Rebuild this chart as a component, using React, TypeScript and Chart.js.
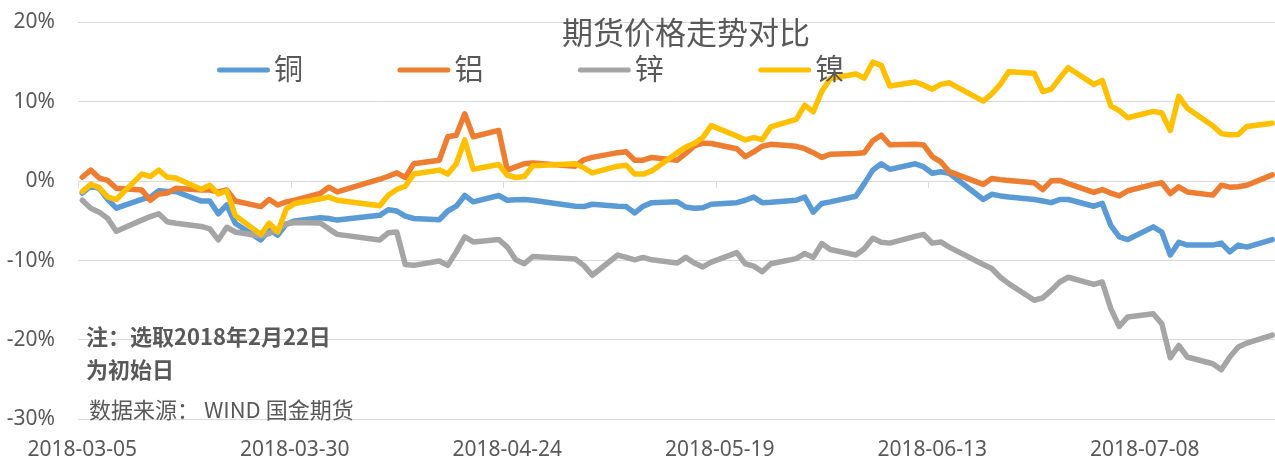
import React, { useEffect, useRef } from 'react';
import { Chart, registerables } from 'chart.js';

Chart.register(...registerables);

const chartTitle = '期货价格走势对比';
const seriesNames = ['铜', '铝', '锌', '镍'];
const seriesColors = ['#5B9BD5', '#ED7D31', '#A5A5A5', '#FFC000'];
const tickLabels = ['2018-03-05', '2018-03-30', '2018-04-24', '2018-05-19', '2018-06-13', '2018-07-08'];
const yTicks = [-30, -20, -10, 0, 10, 20];
const noteLines = ['注：选取2018年2月22日', '为初始日'];
const sourceText = '数据来源： WIND 国金期货';

const dates = [
  '2018-03-05', '2018-03-06', '2018-03-07', '2018-03-08', '2018-03-09',
  '2018-03-12', '2018-03-13', '2018-03-14', '2018-03-15', '2018-03-16',
  '2018-03-19', '2018-03-20', '2018-03-21', '2018-03-22', '2018-03-23',
  '2018-03-26', '2018-03-27', '2018-03-28', '2018-03-29', '2018-03-30',
  '2018-04-02', '2018-04-03', '2018-04-04',
  '2018-04-09', '2018-04-10', '2018-04-11', '2018-04-12', '2018-04-13',
  '2018-04-16', '2018-04-17', '2018-04-18', '2018-04-19', '2018-04-20',
  '2018-04-23', '2018-04-24', '2018-04-25', '2018-04-26', '2018-04-27',
  '2018-05-02', '2018-05-03', '2018-05-04',
  '2018-05-07', '2018-05-08', '2018-05-09', '2018-05-10', '2018-05-11',
  '2018-05-14', '2018-05-15', '2018-05-16', '2018-05-17', '2018-05-18',
  '2018-05-21', '2018-05-22', '2018-05-23', '2018-05-24', '2018-05-25',
  '2018-05-28', '2018-05-29', '2018-05-30', '2018-05-31', '2018-06-01',
  '2018-06-04', '2018-06-05', '2018-06-06', '2018-06-07', '2018-06-08',
  '2018-06-11', '2018-06-12', '2018-06-13', '2018-06-14', '2018-06-15',
  '2018-06-19', '2018-06-20', '2018-06-21', '2018-06-22',
  '2018-06-25', '2018-06-26', '2018-06-27', '2018-06-28', '2018-06-29',
  '2018-07-02', '2018-07-03', '2018-07-04', '2018-07-05', '2018-07-06',
  '2018-07-09', '2018-07-10', '2018-07-11', '2018-07-12', '2018-07-13',
  '2018-07-16', '2018-07-17', '2018-07-18', '2018-07-19', '2018-07-20',
  '2018-07-23',
];

const copper = [
  -1.5, -0.6, -0.9, -2.3, -3.4,
  -2.3, -2.0, -1.2, -1.3, -1.3,
  -2.5, -2.5, -4.1, -3.0, -5.3,
  -7.4, -6.1, -6.8, -5.4, -5.0,
  -4.6, -4.7, -4.9,
  -4.3, -3.6, -3.75, -4.4, -4.7,
  -4.85, -3.75, -3.15, -1.8, -2.6,
  -1.8, -2.4, -2.35, -2.3, -2.4,
  -3.15, -3.2, -2.9,
  -3.15, -3.2, -4.0, -3.15, -2.7,
  -2.6, -3.25, -3.4, -3.35, -2.9,
  -2.7, -2.4, -2.0, -2.7, -2.65,
  -2.4, -2.0, -3.9, -2.8, -2.6,
  -1.9, -0.3, 1.4, 2.2, 1.5,
  2.2, 1.8, 1.0, 1.2, 1.0,
  -2.3, -1.65, -1.85, -2.0,
  -2.3, -2.5, -2.7, -2.3, -2.3,
  -3.15, -2.8, -5.55, -7.0, -7.35,
  -5.75, -6.4, -9.3, -7.7, -8.05,
  -8.05, -7.8, -8.9, -8.05, -8.3,
  -7.35,
];

const aluminum = [
  0.5, 1.4, 0.4, 0.1, -0.9,
  -1.1, -2.4, -1.6, -1.5, -0.9,
  -1.1, -1.1, -1.35, -1.1, -2.5,
  -3.2, -2.3, -3.0, -2.6, -2.4,
  -1.55, -0.75, -1.35,
  0.25, 0.63, 1.05, 0.47, 2.2,
  2.65, 5.6, 5.8, 8.5, 5.6,
  6.4, 1.4, 1.8, 2.2, 2.3,
  1.9, 2.7, 3.0,
  3.6, 3.7, 2.65, 2.65, 3.0,
  2.65, 3.5, 4.45, 4.8, 4.75,
  4.1, 3.1, 3.7, 4.4, 4.65,
  4.4, 4.1, 3.6, 3.0, 3.4,
  3.5, 3.6, 5.1, 5.8, 4.6,
  4.65, 4.55, 3.1, 2.45, 1.2,
  -0.4, 0.33, 0.2, 0.1,
  -0.2, -1.05, 0.05, 0.1, -0.3,
  -1.4, -1.05, -1.5, -1.85, -1.2,
  -0.4, -0.2, -1.55, -0.7, -1.35,
  -1.75, -0.5, -0.75, -0.7, -0.5,
  0.8,
];

const zinc = [
  -2.4, -3.4, -3.9, -4.7, -6.3,
  -4.9, -4.45, -4.1, -5.1, -5.3,
  -5.7, -6.0, -7.4, -5.8, -6.4,
  -6.9, -6.6, -6.0, -5.4, -5.2,
  -5.25, -6.0, -6.7,
  -7.4, -6.5, -6.4, -10.5, -10.6,
  -10.05, -10.6, -8.9, -7.0, -7.65,
  -7.35, -8.3, -9.9, -10.4, -9.5,
  -9.8, -10.6, -11.85,
  -9.3, -9.6, -9.9, -9.6, -9.9,
  -10.3, -9.6, -10.3, -10.8, -10.2,
  -9.0, -10.4, -10.7, -11.4, -10.4,
  -9.75, -9.1, -9.6, -7.85, -8.6,
  -9.3, -8.5, -7.2, -7.7, -7.8,
  -6.95, -6.7, -7.8, -7.65, -8.3,
  -10.5, -11.0, -12.1, -12.9,
  -15.0, -14.7, -13.75, -12.7, -12.1,
  -13.0, -12.7, -16.05, -18.3, -17.1,
  -16.7, -17.95, -22.25, -20.7, -22.15,
  -23.0, -23.75, -22.15, -20.9, -20.4,
  -19.4,
];

const nickel = [
  -1.3, -0.4, -0.8, -2.0, -2.3,
  0.9, 0.6, 1.4, 0.5, 0.4,
  -1.0, -0.5, -1.6, -1.2, -4.3,
  -6.7, -5.3, -6.4, -3.5, -2.8,
  -2.2, -2.0, -2.4,
  -3.1, -1.77, -1.05, -0.63, 0.9,
  1.4, 0.9, 2.2, 5.2, 1.5,
  2.1, 0.75, 0.47, 0.6, 1.95,
  2.2, 1.7, 1.05,
  1.9, 2.0, 0.9, 0.9, 1.3,
  3.6, 4.3, 4.75, 5.5, 7.0,
  5.7, 5.2, 5.5, 5.25, 6.85,
  7.8, 9.6, 8.75, 11.3, 12.95,
  13.5, 13.0, 15.0, 14.6, 12.0,
  12.5, 12.1, 11.6, 12.2, 12.4,
  10.1, 11.0, 12.2, 13.8,
  13.6, 11.3, 11.6, 13.0, 14.3,
  12.2, 12.7, 9.5, 8.9, 8.0,
  8.8, 8.6, 6.4, 10.7, 9.2,
  7.0, 6.0, 5.85, 5.9, 6.9,
  7.3,
];

const seriesValues = [copper, aluminum, zinc, nickel];

const TEXT_COLOR = '#595959';
const GRID_COLOR = '#D9D9D9';
const CJK = '"Noto Sans CJK SC", "Noto Sans", sans-serif';
const LATIN = '"Noto Sans", "Noto Sans CJK SC", sans-serif';

const DAY0 = Date.UTC(2018, 2, 5);
function dayOffset(s: string): number {
  const [y, m, d] = s.split('-').map(Number);
  return Math.round((Date.UTC(y, m - 1, d) - DAY0) / 86400000);
}
const tickDays = tickLabels.map(dayOffset);

const overlayPlugin = {
  id: 'overlay',
  beforeDatasetsDraw(chart: any) {
    const { ctx } = chart;
    const xs = chart.scales.x;
    const ys = chart.scales.y;
    const y0 = ys.getPixelForValue(0);
    ctx.save();
    ctx.strokeStyle = GRID_COLOR;
    ctx.lineWidth = 1;
    tickDays.forEach((d) => {
      const px = Math.round(xs.getPixelForValue(d - 0.5)) + 0.5;
      ctx.beginPath();
      ctx.moveTo(px, y0);
      ctx.lineTo(px, y0 + 7);
      ctx.stroke();
    });
    ctx.restore();
  },
  afterDraw(chart: any) {
    const { ctx } = chart;
    ctx.save();
    // title
    ctx.fillStyle = TEXT_COLOR;
    ctx.font = `31px ${CJK}`;
    ctx.textAlign = 'center';
    ctx.textBaseline = 'middle';
    ctx.fillText(chartTitle, 686, 32);
    // legend
    seriesNames.forEach((name, i) => {
      const x0 = 217 + i * 180.4;
      ctx.strokeStyle = seriesColors[i];
      ctx.lineWidth = 5;
      ctx.lineCap = 'round';
      ctx.beginPath();
      ctx.moveTo(x0 + 2.5, 70);
      ctx.lineTo(x0 + 50.5, 70);
      ctx.stroke();
      ctx.fillStyle = TEXT_COLOR;
      ctx.font = `29px ${CJK}`;
      ctx.textAlign = 'left';
      ctx.textBaseline = 'middle';
      ctx.fillText(name, x0 + 57, 69);
    });
    // notes
    ctx.fillStyle = TEXT_COLOR;
    ctx.textAlign = 'left';
    ctx.textBaseline = 'middle';
    ctx.font = `bold 22px ${CJK}`;
    ctx.fillText(noteLines[0], 86, 337);
    ctx.fillText(noteLines[1], 86, 370);
    ctx.font = `22px ${CJK}`;
    ctx.fillText(sourceText, 89, 410);
    ctx.restore();
  },
};

export default function App() {
  const canvasRef = useRef<HTMLCanvasElement | null>(null);

  useEffect(() => {
    const canvas = canvasRef.current;
    if (!canvas) return;
    const chart = new Chart(canvas, {
      type: 'line',
      data: {
        datasets: seriesNames.map((name, i) => ({
          label: name,
          data: dates.map((d, j) => ({ x: dayOffset(d), y: seriesValues[i][j] })),
          borderColor: seriesColors[i],
          backgroundColor: seriesColors[i],
          borderWidth: 5.5,
          pointRadius: 0,
          pointHoverRadius: 0,
          tension: 0,
          borderJoinStyle: 'round',
          borderCapStyle: 'round',
          fill: false,
          order: 4 - i,
        })),
      },
      options: {
        animation: false,
        responsive: true,
        maintainAspectRatio: false,
        layout: { padding: { top: 22.5, left: 0, right: 0, bottom: 0 } },
        plugins: {
          legend: { display: false },
          title: { display: false },
          tooltip: { enabled: false },
        },
        scales: {
          x: {
            type: 'linear',
            min: -0.5,
            max: 140.32,
            grid: { display: false, drawTicks: false },
            border: { display: false },
            afterBuildTicks: (s: any) => {
              s.ticks = tickDays.map((v) => ({ value: v }));
            },
            afterFit: (s: any) => {
              s.height = 39.7;
              s.paddingLeft = 0;
              s.paddingRight = 0;
            },
            ticks: {
              autoSkip: false,
              maxRotation: 0,
              minRotation: 0,
              padding: 18,
              color: TEXT_COLOR,
              font: { family: LATIN, size: 21 },
              callback: (v: any) => {
                const i = tickDays.indexOf(Number(v));
                return i >= 0 ? tickLabels[i] : '';
              },
            },
          },
          y: {
            type: 'linear',
            min: -30,
            max: 20,
            grid: { color: GRID_COLOR, lineWidth: 1, drawTicks: false },
            border: { display: false },
            afterBuildTicks: (s: any) => {
              s.ticks = yTicks.map((v) => ({ value: v }));
            },
            afterFit: (s: any) => {
              s.width = 78;
              s.paddingTop = 0;
              s.paddingBottom = 0;
            },
            ticks: {
              padding: 23,
              color: TEXT_COLOR,
              font: { family: LATIN, size: 21 },
              callback: (v: any) => `${v}%`,
            },
          },
        },
      },
      plugins: [overlayPlugin],
    } as any);
    return () => chart.destroy();
  }, []);

  return (
    <div style={{ position: 'fixed', left: 0, top: 0, width: 1275, height: 459, background: '#fff' }}>
      <canvas ref={canvasRef} />
    </div>
  );
}
